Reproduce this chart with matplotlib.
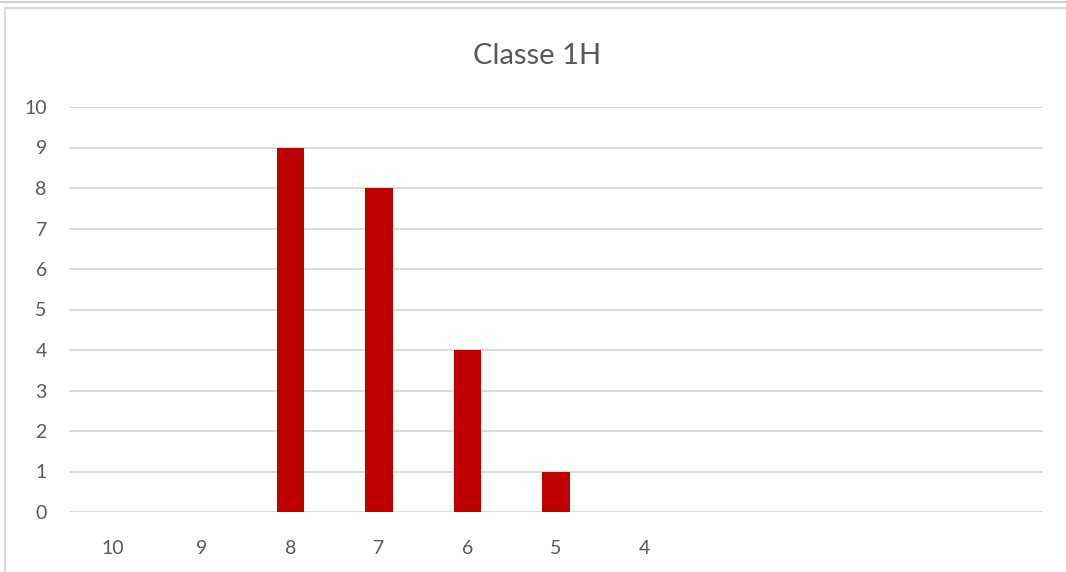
import matplotlib.pyplot as plt
from matplotlib.lines import Line2D

categories = ['10', '9', '8', '7', '6', '5', '4', '', '', '', '']
values = [0, 0, 9, 8, 4, 1, 0, 0, 0, 0, 0]

plt.rcParams['font.family'] = ['Lato', 'DejaVu Sans']

W, H = 1066, 572
fig = plt.figure(figsize=(W / 100, H / 100), dpi=100)

# plot area in pixels: x 69..1043, y 107..512
ax = fig.add_axes([69 / W, 1 - 512 / H, (1043 - 69) / W, (512 - 107) / H])

x = range(len(categories))
ax.bar(x, values, width=0.31, color='#C00000', zorder=3)

ax.set_xlim(-0.5, len(categories) - 0.5)
ax.set_ylim(0, 10)
ax.set_yticks(range(0, 11))
ax.set_xticks(list(x))
ax.set_xticklabels(categories)
ax.grid(axis='y', color='#D9D9D9', linewidth=1.3, zorder=0)
for s in ax.spines.values():
    s.set_visible(False)
ax.tick_params(length=0, labelsize=14, colors='#595959')
ax.tick_params(axis='x', pad=20)
ax.tick_params(axis='y', pad=16)

fig.text(537 / W, 1 - 56 / H, 'Classe 1H', ha='center', va='center',
         fontsize=21, color='#595959')

# chart frame (partially cropped) and neighbouring chart edge
fig.add_artist(Line2D([0, 1], [1 - 2 / H, 1 - 2 / H], color='#D0D0D0', lw=1.5))
fig.add_artist(Line2D([5 / W, 1], [1 - 8 / H, 1 - 8 / H], color='#D9D9D9', lw=1.5))
fig.add_artist(Line2D([5 / W, 5 / W], [0, 1 - 8 / H], color='#D9D9D9', lw=1.5))

fig.savefig('out.png', dpi=100)
